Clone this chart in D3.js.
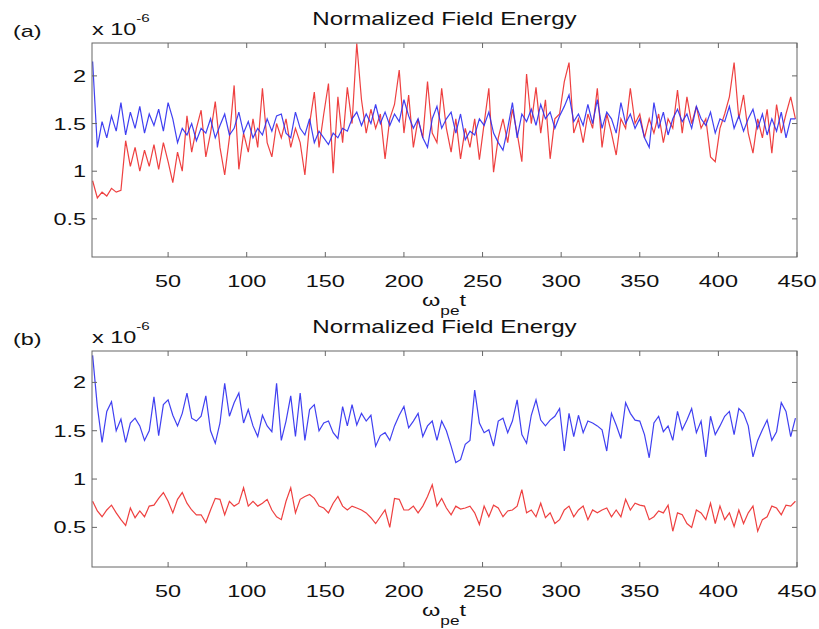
<!DOCTYPE html>
<html>
<head>
<meta charset="utf-8">
<script src="https://cdn.jsdelivr.net/npm/d3@7"></script>
<style>
  body { margin: 0; background: #fff; }
  svg text { font-family: "Liberation Sans", Arial, sans-serif; fill: #111; }
</style>
</head>
<body>
<div id="chart"></div>
<script>
const width = 819;
const height = 629;

// time grid (omega_pe t), one sample every 3 units
const tGrid = d3.range(150).map(i => 2 + 3 * i);
const xTicks = [50, 100, 150, 200, 250, 300, 350, 400, 450];
const yTicks = [0.5, 1, 1.5, 2];

// (a) field energy, x 1e-6
const aBlue = [
  2.15, 1.25, 1.52, 1.35, 1.58, 1.42, 1.72, 1.38, 1.62, 1.45,
  1.68, 1.40, 1.60, 1.48, 1.65, 1.42, 1.72, 1.55, 1.30, 1.45,
  1.38, 1.50, 1.32, 1.45, 1.40, 1.55, 1.35, 1.48, 1.60, 1.38,
  1.45, 1.62, 1.40, 1.52, 1.35, 1.45, 1.38, 1.55, 1.42, 1.58,
  1.60, 1.40, 1.35, 1.62, 1.45, 1.38, 1.55, 1.30, 1.42, 1.35,
  1.28, 1.40, 1.35, 1.45, 1.42, 1.55, 1.62, 1.48, 1.60, 1.50,
  1.70, 1.50, 1.62, 1.48, 1.60, 1.52, 1.75, 1.58, 1.45, 1.55,
  1.35, 1.25, 1.55, 1.68, 1.45, 1.55, 1.62, 1.40, 1.60, 1.33,
  1.42, 1.38, 1.55, 1.48, 1.62, 1.40, 1.30, 1.22, 1.45, 1.72,
  1.35, 1.60, 1.52, 1.65, 1.48, 1.70, 1.55, 1.62, 1.45, 1.58,
  1.68, 1.80, 1.52, 1.60, 1.48, 1.70, 1.50, 1.75, 1.45, 1.62,
  1.55, 1.40, 1.72, 1.50, 1.60, 1.45, 1.55, 1.35, 1.25, 1.72,
  1.45, 1.62, 1.38, 1.55, 1.65, 1.52, 1.60, 1.45, 1.68, 1.55,
  1.48, 1.62, 1.40, 1.55, 1.52, 1.68, 1.45, 1.58, 1.42, 1.55,
  1.65, 1.45, 1.60, 1.38, 1.55, 1.42, 1.62, 1.35, 1.55, 1.55
];
const aRed = [
  0.90, 0.72, 0.78, 0.74, 0.82, 0.78, 0.80, 1.32, 1.05, 1.25,
  1.00, 1.22, 1.05, 1.28, 1.02, 1.30, 1.10, 0.88, 1.20, 1.00,
  1.58, 1.20, 1.45, 1.64, 1.15, 1.40, 1.73, 1.25, 0.96, 1.35,
  1.90, 1.02, 1.40, 1.20, 1.55, 1.25, 1.87, 1.30, 1.15, 1.50,
  1.35, 1.55, 1.25, 1.45, 1.30, 0.96, 1.50, 1.83, 1.25, 1.60,
  1.92, 0.98, 1.78, 1.30, 1.88, 1.50, 2.34, 1.75, 1.40, 1.65,
  1.45, 1.60, 1.13, 1.55, 1.70, 2.06, 1.40, 1.80, 1.25, 1.55,
  1.35, 1.94, 1.40, 1.30, 1.87, 1.45, 1.20, 1.55, 1.13, 1.45,
  1.25, 1.55, 1.12, 1.50, 1.87, 0.99, 1.35, 1.55, 1.30, 1.65,
  1.40, 1.10, 2.02, 1.50, 1.88, 1.40, 1.75, 1.13, 1.55, 1.60,
  1.94, 2.14, 1.40, 1.55, 1.30, 1.60, 1.45, 1.87, 1.25, 1.60,
  1.40, 1.17, 1.55, 1.45, 1.87, 1.50, 1.60, 1.35, 1.55, 1.40,
  1.60, 1.30, 1.55, 1.45, 1.85, 1.40, 1.78, 1.50, 1.68, 1.45,
  1.55, 1.15, 1.10, 1.45, 1.60, 1.78, 2.14, 1.55, 1.80, 1.40,
  1.19, 1.55, 1.35, 1.65, 1.19, 1.70, 1.40, 1.60, 1.78, 1.55
];

// (b) field energy, x 1e-6
const bBlue = [
  2.28, 1.75, 1.38, 1.70, 1.80, 1.50, 1.62, 1.38, 1.58, 1.63,
  1.55, 1.40, 1.50, 1.85, 1.45, 1.77, 1.82, 1.66, 1.55, 1.68,
  1.89, 1.63, 1.60, 1.65, 1.86, 1.50, 1.37, 1.58, 1.99, 1.65,
  1.79, 1.89, 1.58, 1.72, 1.55, 1.44, 1.66, 1.55, 1.49, 1.99,
  1.40, 1.60, 1.86, 1.44, 1.89, 1.40, 1.72, 1.77, 1.50, 1.58,
  1.60, 1.48, 1.42, 1.75, 1.55, 1.77, 1.56, 1.68, 1.60, 1.66,
  1.34, 1.45, 1.48, 1.40, 1.55, 1.66, 1.75, 1.53, 1.60, 1.68,
  1.44, 1.55, 1.60, 1.40, 1.60, 1.50, 1.34, 1.17, 1.20, 1.36,
  1.40, 1.92, 1.58, 1.48, 1.51, 1.34, 1.60, 1.63, 1.48, 1.60,
  1.82, 1.46, 1.37, 1.66, 1.82, 1.61, 1.55, 1.61, 1.65, 1.73,
  1.29, 1.68, 1.44, 1.66, 1.48, 1.60, 1.58, 1.55, 1.51, 1.29,
  1.68, 1.56, 1.42, 1.79, 1.68, 1.61, 1.60, 1.46, 1.22, 1.58,
  1.65, 1.49, 1.55, 1.40, 1.70, 1.51, 1.61, 1.73, 1.48, 1.60,
  1.23, 1.65, 1.46, 1.55, 1.65, 1.70, 1.46, 1.73, 1.68, 1.55,
  1.23, 1.40, 1.51, 1.61, 1.40, 1.49, 1.79, 1.70, 1.44, 1.63
];
const bRed = [
  0.77, 0.67, 0.61, 0.68, 0.73, 0.65, 0.58, 0.52, 0.70, 0.60,
  0.67, 0.61, 0.72, 0.73, 0.80, 0.86, 0.77, 0.65, 0.79, 0.86,
  0.75, 0.68, 0.63, 0.63, 0.55, 0.68, 0.80, 0.79, 0.63, 0.77,
  0.72, 0.75, 0.91, 0.72, 0.77, 0.72, 0.75, 0.79, 0.68, 0.61,
  0.58, 0.77, 0.91, 0.65, 0.79, 0.82, 0.84, 0.80, 0.72, 0.70,
  0.65, 0.75, 0.82, 0.72, 0.68, 0.72, 0.70, 0.68, 0.65, 0.60,
  0.54, 0.61, 0.68, 0.50, 0.80, 0.79, 0.68, 0.68, 0.72, 0.65,
  0.72, 0.82, 0.94, 0.72, 0.80, 0.70, 0.63, 0.72, 0.69, 0.70,
  0.72, 0.65, 0.53, 0.72, 0.61, 0.73, 0.70, 0.61, 0.67, 0.68,
  0.72, 0.89, 0.65, 0.68, 0.61, 0.75, 0.60, 0.65, 0.54, 0.58,
  0.68, 0.72, 0.61, 0.68, 0.72, 0.58, 0.68, 0.65, 0.68, 0.70,
  0.61, 0.68, 0.61, 0.79, 0.68, 0.75, 0.73, 0.72, 0.58, 0.61,
  0.67, 0.65, 0.73, 0.46, 0.65, 0.63, 0.54, 0.50, 0.68, 0.65,
  0.58, 0.75, 0.54, 0.72, 0.58, 0.65, 0.51, 0.68, 0.54, 0.65,
  0.72, 0.46, 0.58, 0.61, 0.72, 0.70, 0.63, 0.73, 0.72, 0.77
];

const panels = [
  {tag: "(a)", top: 43, bottom: 257, yDom: [0.1, 2.345], series: [aRed, aBlue]},
  {tag: "(b)", top: 351, bottom: 567, yDom: [0.09, 2.325], series: [bRed, bBlue]}
];
const colors = ["#ec2b2b", "#2b2bef"];
const left = 92, right = 797;
const stretch = 1.38;   // source image text is wide

const svg = d3.select("#chart").append("svg")
    .attr("width", width)
    .attr("height", height);

function label(x, y, str, anchor, size) {
    return svg.append("text")
        .attr("transform", "translate(" + x + "," + y + ") scale(" + stretch + ",1)")
        .attr("text-anchor", anchor)
        .attr("font-size", size)
        .text(str);
}

panels.forEach((p, k) => {
    const xScale = d3.scaleLinear().domain([1.6, 450]).range([left, right]);
    const yScale = d3.scaleLinear().domain(p.yDom).range([p.bottom, p.top]);

    svg.append("clipPath").attr("id", "clip" + k)
        .append("rect")
        .attr("x", left).attr("y", p.top)
        .attr("width", right - left).attr("height", p.bottom - p.top);

    const line = d3.line()
        .x((d, i) => xScale(tGrid[i]))
        .y(d => yScale(d));

    p.series.forEach((s, j) => {
        svg.append("path")
            .datum(s)
            .attr("clip-path", "url(#clip" + k + ")")
            .attr("fill", "none")
            .attr("stroke", colors[j])
            .attr("stroke-width", 1.2)
            .attr("stroke-opacity", 0.9)
            .attr("d", line);
    });

    // box + inward ticks on all sides
    const g = svg.append("g").attr("stroke", "#666").attr("fill", "none");
    g.append("rect")
        .attr("x", left).attr("y", p.top)
        .attr("width", right - left).attr("height", p.bottom - p.top)
        .attr("stroke-width", 1);
    xTicks.forEach(t => {
        const x = xScale(t);
        g.append("line").attr("x1", x).attr("x2", x).attr("y1", p.bottom).attr("y2", p.bottom - 5);
        g.append("line").attr("x1", x).attr("x2", x).attr("y1", p.top).attr("y2", p.top + 5);
        label(x, p.bottom + 30, t, "middle", 17);
    });
    yTicks.forEach(t => {
        const y = yScale(t);
        g.append("line").attr("x1", left).attr("x2", left + 5).attr("y1", y).attr("y2", y);
        g.append("line").attr("x1", right).attr("x2", right - 5).attr("y1", y).attr("y2", y);
        label(left - 6, y + 6, t, "end", 17);
    });

    // title, panel tag, exponent
    label((left + right) / 2, p.top - 18, "Normalized Field Energy", "middle", 17.5);
    label(13, p.top - 6, p.tag, "start", 17);
    const ex = label(left, p.top - 8, "x 10", "start", 17);
    ex.append("tspan").attr("dy", -13).attr("font-size", 11).text("-6");

    // x label
    const xl = label(444, p.bottom + 49, "\u03c9", "middle", 17);
    xl.append("tspan").attr("dy", 9).attr("font-size", 12.5).text("pe");
    xl.append("tspan").attr("dy", -9).text("t");
});
</script>
</body>
</html>
